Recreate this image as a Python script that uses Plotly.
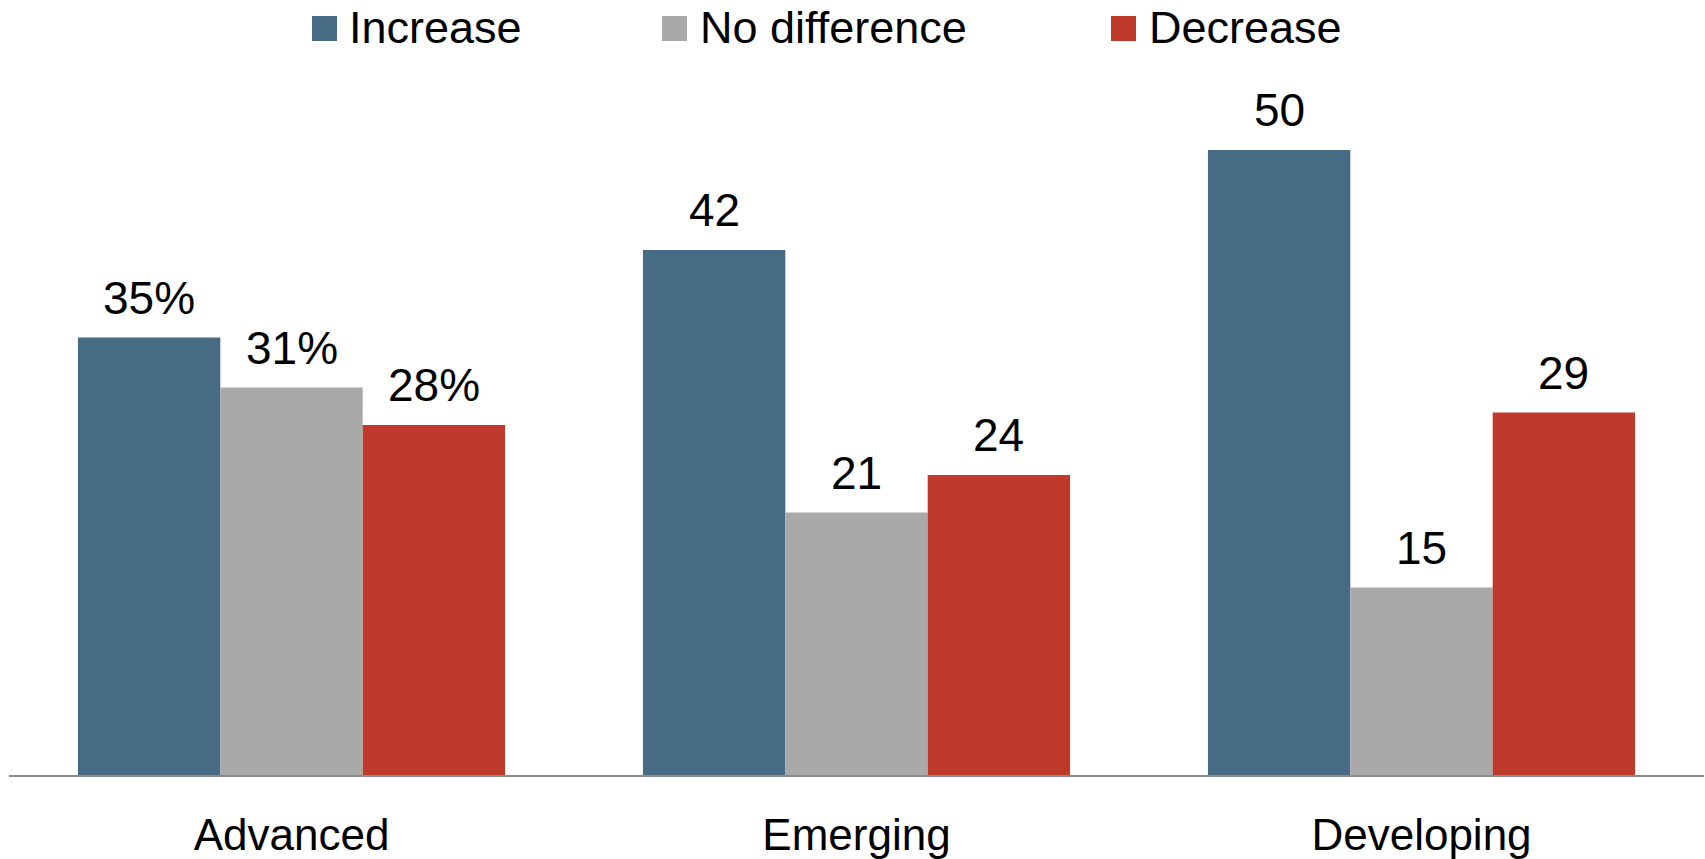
import plotly.graph_objects as go

# Data
categories = ["Advanced", "Emerging", "Developing"]
series_names = ["Increase", "No difference", "Decrease"]
increase = [35, 42, 50]
no_difference = [31, 21, 15]
decrease = [28, 24, 29]
label_suffix = ["%", "", ""]  # only the first group carries the percent sign

colors = ["#476a85", "#a9a9a9", "#bf3a2a"]
series_values = [increase, no_difference, decrease]

W, H = 1705, 859
M_L, M_R, M_T, M_B = 9, 1, 100, 84
BARGAP = 0.244
FONT = "Liberation Sans, Arial, sans-serif"

x_pos = list(range(len(categories)))
bar_w = (1 - BARGAP) / len(series_names)

fig = go.Figure()
for name, vals, col in zip(series_names, series_values, colors):
    fig.add_trace(go.Bar(
        x=x_pos, y=vals, name=name, marker=dict(color=col, line=dict(width=0)),
        showlegend=False, hoverinfo="skip",
    ))

# Value labels above each bar
annotations = []
for k, vals in enumerate(series_values):
    offset = (k - (len(series_names) - 1) / 2) * bar_w
    for i, v in enumerate(vals):
        annotations.append(dict(
            x=x_pos[i] + offset, y=v, xref="x", yref="y",
            text=f"{v}{label_suffix[i]}", showarrow=False,
            xanchor="center", yanchor="bottom", yshift=12,
            font=dict(family=FONT, size=46, color="#000000"),
        ))

# Custom legend row along the top
plot_w = W - M_L - M_R
plot_h = H - M_T - M_B
axis_px = H - M_B


def px_x(p):
    return (p - M_L) / plot_w


def px_y(p):
    return (axis_px - p) / plot_h


legend_sq_left = [312, 662, 1111]
legend_txt_left = [347, 698, 1147]
shapes = []
for name, col, sx, tx in zip(series_names, colors, legend_sq_left, legend_txt_left):
    shapes.append(dict(
        type="rect", xref="paper", yref="paper",
        x0=px_x(sx), x1=px_x(sx + 25), y0=px_y(41), y1=px_y(16),
        fillcolor=col, line=dict(width=0),
    ))
    annotations.append(dict(
        x=px_x(tx), y=px_y(27), xref="paper", yref="paper",
        text=name, showarrow=False, xanchor="left", yanchor="middle",
        font=dict(family=FONT, size=45, color="#000000"),
    ))

fig.update_layout(
    width=W, height=H,
    margin=dict(l=M_L, r=M_R, t=M_T, b=M_B, pad=0, autoexpand=False),
    paper_bgcolor="white", plot_bgcolor="white",
    barmode="group", bargap=BARGAP, bargroupgap=0,
    annotations=annotations, shapes=shapes,
    showlegend=False,
    xaxis=dict(
        range=[-0.5, 2.5], tickmode="array", tickvals=x_pos, ticktext=categories,
        showline=True, linecolor="#8c8c8c", linewidth=2,
        showgrid=False, zeroline=False, ticks="", automargin=False,
        tickfont=dict(family=FONT, size=44, color="#000000"),
        ticklabelstandoff=20,
    ),
    yaxis=dict(
        range=[0, 54], showticklabels=False, showgrid=False, zeroline=False,
        showline=False, automargin=False,
    ),
)

fig.write_html("out.html")
